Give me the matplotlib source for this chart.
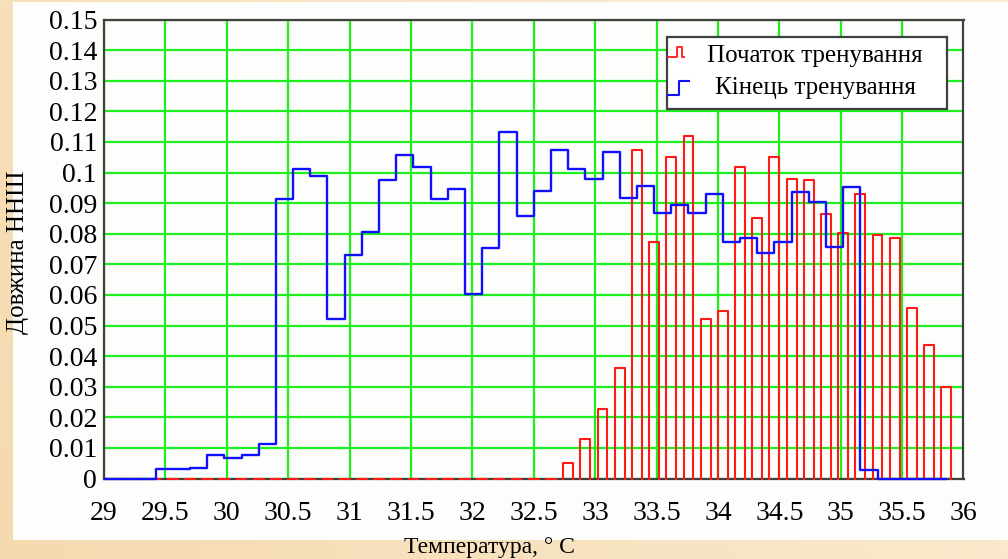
import numpy as np
import matplotlib
matplotlib.use("Agg")
import matplotlib.pyplot as plt
from matplotlib.patches import Rectangle
from matplotlib.ticker import FormatStrFormatter

# температура (центри інтервалів), °C
temperature = [29.0, 29.14, 29.28, 29.42, 29.56, 29.7, 29.84, 29.98, 30.12, 30.26,
               30.4, 30.54, 30.68, 30.82, 30.96, 31.1, 31.24, 31.38, 31.52, 31.66,
               31.8, 31.94, 32.08, 32.22, 32.36, 32.5, 32.64, 32.78, 32.92, 33.06,
               33.2, 33.34, 33.48, 33.62, 33.76, 33.9, 34.04, 34.18, 34.32, 34.46,
               34.6, 34.74, 34.88, 35.02, 35.16, 35.3, 35.44, 35.58, 35.72, 35.86]

# початок тренування (стовпці)
start_len = [0, 0, 0, 0, 0, 0, 0, 0, 0, 0,
             0, 0, 0, 0, 0, 0, 0, 0, 0, 0,
             0, 0, 0, 0, 0, 0, 0, 0.005, 0.0128, 0.0227,
             0.036, 0.1073, 0.0774, 0.105, 0.1118, 0.052, 0.0548, 0.1017, 0.0851, 0.105,
             0.0978, 0.0974, 0.0863, 0.0801, 0.0929, 0.0797, 0.0787, 0.0558, 0.0437, 0.0299]

# кінець тренування (сходинки)
end_len = [0, 0, 0, 0.003, 0.003, 0.0034, 0.0078, 0.0067, 0.0078, 0.0113,
           0.0913, 0.1011, 0.0989, 0.052, 0.0729, 0.0807, 0.0974, 0.1057, 0.1018, 0.0913,
           0.0945, 0.0604, 0.0752, 0.1133, 0.0857, 0.0941, 0.1072, 0.1012, 0.0979, 0.1066,
           0.0918, 0.0956, 0.0868, 0.0895, 0.0868, 0.0929, 0.0773, 0.0786, 0.0736, 0.0774,
           0.0935, 0.0902, 0.0758, 0.0951, 0.0028, 0, 0, 0, 0, 0]

x_ticks = [29, 29.5, 30, 30.5, 31, 31.5, 32, 32.5, 33, 33.5, 34, 34.5, 35, 35.5, 36]
y_ticks = [0, 0.01, 0.02, 0.03, 0.04, 0.05, 0.06, 0.07, 0.08, 0.09,
           0.1, 0.11, 0.12, 0.13, 0.14, 0.15]
x_label = "Температура, ° С"
y_label = "Довжина ННШ"
legend_labels = ["Початок тренування", "Кінець тренування"]

plt.rcParams['font.family'] = ['Liberation Serif', 'DejaVu Serif']

W, H = 1008, 559
fig = plt.figure(figsize=(W / 100, H / 100), dpi=100)

# фон: бежевий градієнт і біла панель
bg = fig.add_axes([0, 0, 1, 1], zorder=0)
gx = np.linspace(0, 1, 200)[None, :, None]
gy = np.linspace(0, 1, 120)[:, None, None]
c_left = np.array([245, 218, 176]) / 255
c_right = np.array([252, 238, 214]) / 255
mix = np.clip(0.75 * gx + 0.25 * (1 - gy), 0, 1)
grad = c_left * (1 - mix) + c_right * mix
bg.imshow(grad, extent=[0, W, H, 0], aspect='auto')
bg.add_patch(Rectangle((13, 2), W - 13, 538, facecolor='#fdfefc', edgecolor='none'))
bg.set_xlim(0, W)
bg.set_ylim(H, 0)
bg.axis('off')

ax = fig.add_axes([104 / W, (H - 478.5) / H, (963.5 - 104) / W, (478.5 - 19.5) / H], zorder=1)
ax.set_facecolor('#fdfefc')
ax.set_xlim(29, 36)
ax.set_ylim(0, 0.15)
ax.set_xticks(x_ticks)
ax.set_yticks(y_ticks)
ax.xaxis.set_major_formatter(FormatStrFormatter('%g'))
ax.yaxis.set_major_formatter(FormatStrFormatter('%g'))
ax.grid(True, color='#1ef01e', lw=1.6)
ax.set_axisbelow(True)
ax.tick_params(length=0, labelsize=20, colors='black')
ax.tick_params(axis='x', pad=16)
ax.tick_params(axis='y', pad=5)
for s in ax.spines.values():
    s.set_color('#404040')
    s.set_linewidth(1.6)

clip = Rectangle((0, -0.01), 1, 1.02, transform=ax.transAxes)

# стовпці "початок" без нижньої грані
bw = 0.08
t = np.array(temperature)
h = np.array(start_len)
nan = np.full_like(t, np.nan)
xs = np.column_stack([t - bw / 2, t - bw / 2, t + bw / 2, t + bw / 2, nan]).ravel()
ys = np.column_stack([np.zeros_like(h), h, h, np.zeros_like(h), nan]).ravel()
red, = ax.plot(xs, ys, color='#ff1a1a', lw=1.5, zorder=3)
red.set_clip_path(clip)

blue, = ax.step(temperature, end_len, where='post', color='#1010ff', lw=1.7, zorder=4)
blue.set_clip_path(clip)

fig.text(18 / W, 1 - 252 / H, y_label, rotation=90, ha='center', va='center', fontsize=18)
fig.text(489 / W, 1 - 548 / H, x_label, ha='center', va='center', fontsize=17)

# легенда
lg = fig.add_axes([0, 0, 1, 1], zorder=5)
lg.set_xlim(0, W)
lg.set_ylim(H, 0)
lg.axis('off')
lg.add_patch(Rectangle((667.3, 36.7), 279.4, 72, facecolor='white', edgecolor='#404040', lw=1.6))
lg.plot([668, 677, 677, 682, 682, 684], [56.7, 56.7, 47, 47, 56.7, 56.7], color='#ff1a1a', lw=1.3)
lg.plot([668, 679, 679, 688.5], [95, 95, 80.7, 80.7], color='#1010ff', lw=1.5)
lg.text(815, 56, legend_labels[0], ha='center', va='center', fontsize=18)
lg.text(815, 88, legend_labels[1], ha='center', va='center', fontsize=18)

fig.savefig('out.png', dpi=100)
